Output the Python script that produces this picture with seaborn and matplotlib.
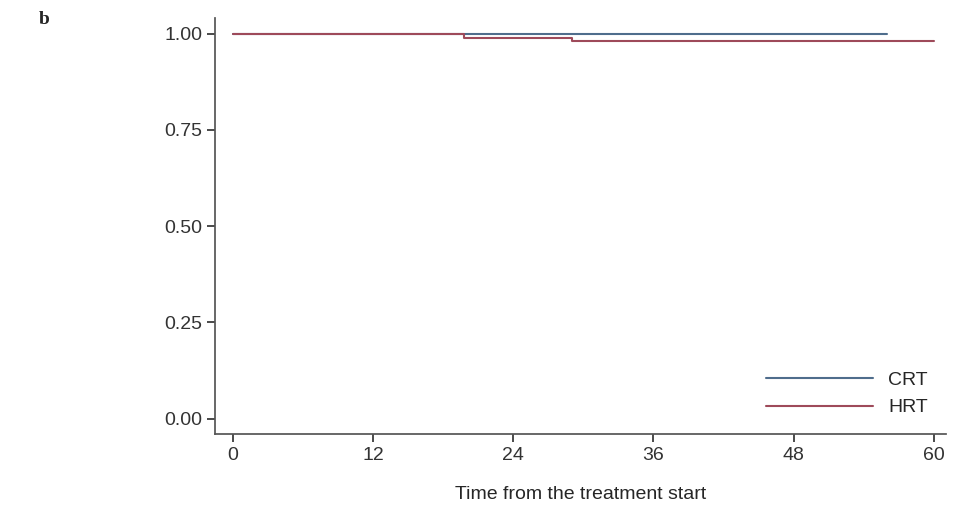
import matplotlib
matplotlib.use("Agg")
import matplotlib.pyplot as plt
import seaborn as sns
import pandas as pd

# Kaplan-Meier step data
crt_time = [0, 56]
crt_surv = [1.00, 1.00]
hrt_time = [0, 19.8, 29, 60]
hrt_surv = [1.00, 0.99, 0.98, 0.98]

sns.set_theme(style="ticks")
plt.rcParams['font.family'] = ['Liberation Sans', 'DejaVu Sans']

fig = plt.figure(figsize=(9.61, 5.26), dpi=100)
ax = fig.add_axes([0.224, 0.175, 0.76, 0.79])

crt = pd.DataFrame({"t": crt_time, "s": crt_surv})
hrt = pd.DataFrame({"t": hrt_time, "s": hrt_surv})
sns.lineplot(data=crt, x="t", y="s", drawstyle="steps-post", color="#4f6d8c", lw=1.5, label="CRT", ax=ax)
sns.lineplot(data=hrt, x="t", y="s", drawstyle="steps-post", color="#9e4a5a", lw=1.5, label="HRT", ax=ax)

ax.set_xlim(-1.5, 61)
ax.set_ylim(-0.04, 1.04)
ax.set_xticks([0, 12, 24, 36, 48, 60])
ax.set_yticks([0, 0.25, 0.5, 0.75, 1.0])
ax.set_yticklabels(["0.00", "0.25", "0.50", "0.75", "1.00"])
ax.tick_params(labelsize=14, colors="#333333")
ax.set_xlabel("Time from the treatment start", fontsize=14, labelpad=16)
ax.set_ylabel("")
sns.despine(ax=ax)
for s in ["left", "bottom"]:
    ax.spines[s].set_color("#555555")

ax.legend(loc="lower right", frameon=False, fontsize=14, handlelength=5.5)
fig.text(0.04, 0.955, "b", fontsize=14, fontweight="bold", family="Liberation Serif")

fig.savefig("out.png", dpi=100)
